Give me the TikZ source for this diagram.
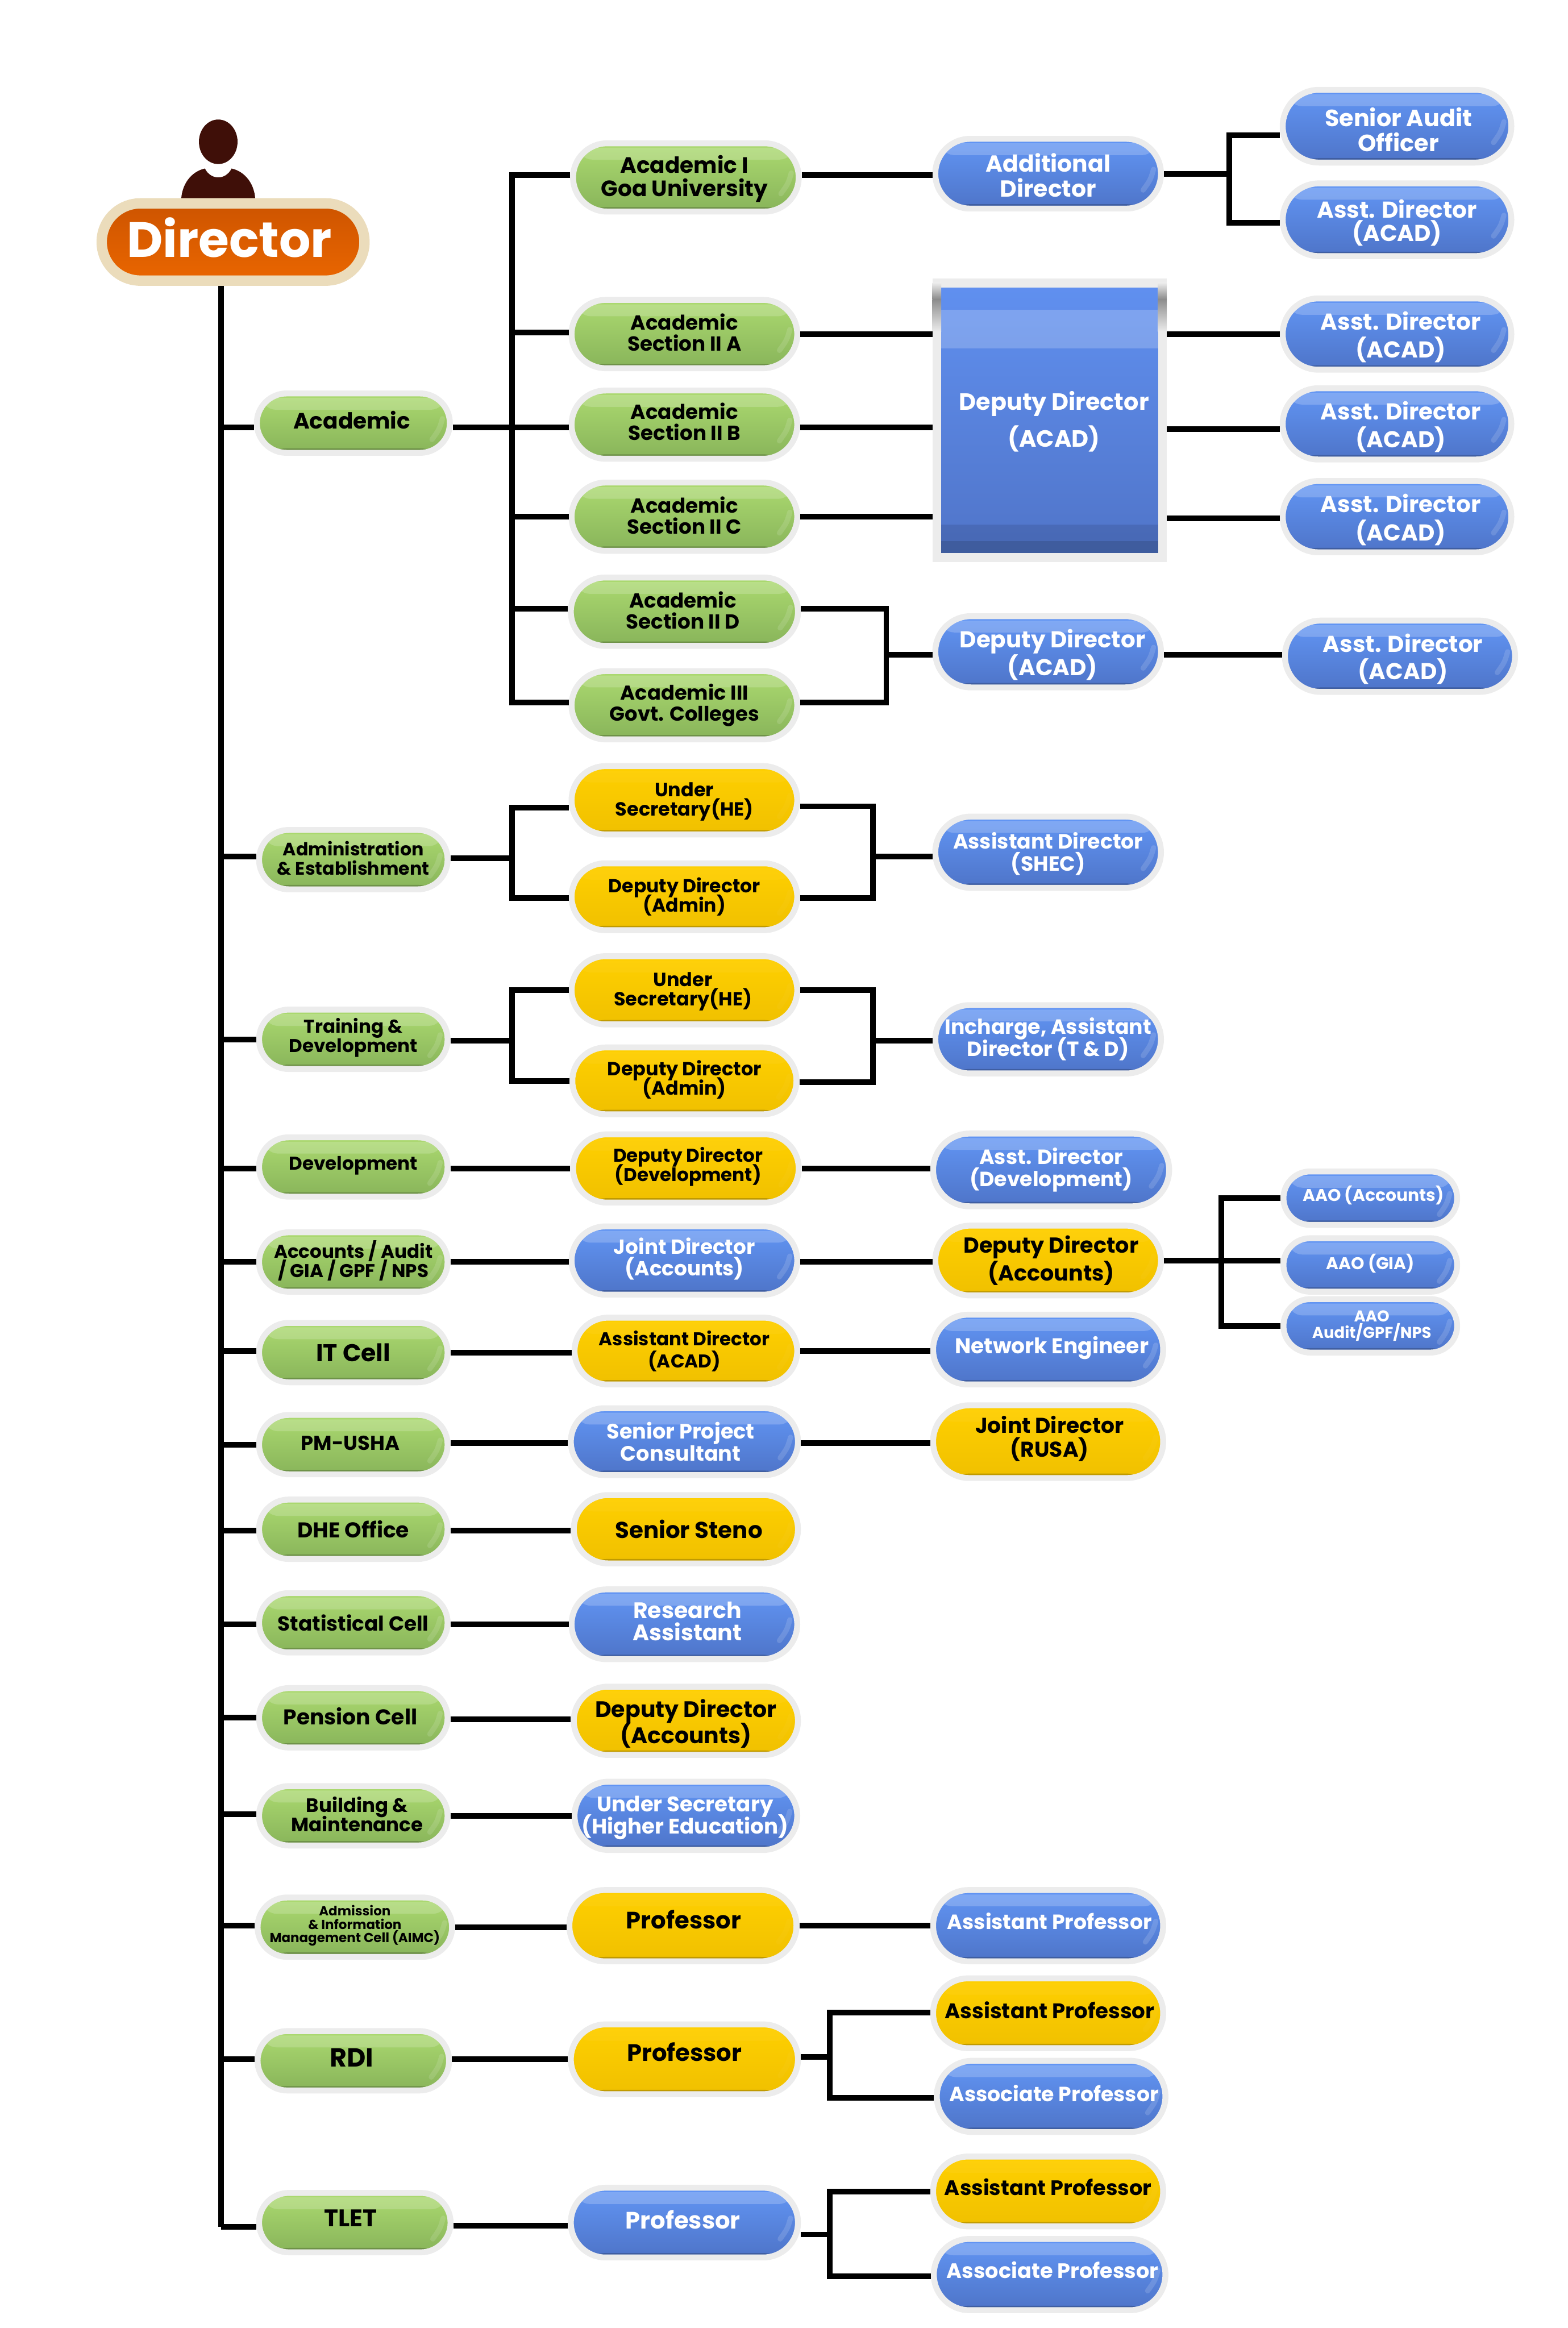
\documentclass[tikz,border=0pt]{standalone}
\usepackage{fontspec}
\setmainfont{Poppins}
\definecolor{ringgray}{HTML}{ECECEC}
\definecolor{ringcream}{HTML}{EBDCBB}
\definecolor{mhead}{HTML}{3F0F08}
\newdimen\ux
\ux=0.5669pt
\newcommand{\tx}[3]{\makebox[0pt]{\smash{\kern#1\ux\kern#1\ux\raisebox{\dimexpr#2\ux-.5\height+.5\depth\relax}{%
  \parbox[b]{300\ux}{\selectfont\lineskiplimit=-100pt\centering #3}}}}}
\tikzset{pill/.style 2 args = {rectangle, draw = ringgray, line width = 0.08cm, inner sep = 0,
                               minimum width = {(#1-1)*0.02cm}, minimum height = {(#2-1)*0.02cm},
                               rounded corners = {(#2-1)*0.01cm}}}
\tikzset{fs/.style 2 args = {font = \fontsize{#1}{#2}\selectfont\bfseries}}
\tikzset{gloss/.style = {path picture = {
  \fill [white, opacity = #1, rounded corners = 0.2cm]
    ([shift = {(3, 3)}]path picture bounding box.north west) rectangle
    ([shift = {(-3, 11)}]path picture bounding box.north east);
  \fill [black, opacity = 0.2]
    ([shift = {(0, -3)}]path picture bounding box.south west) rectangle
    (path picture bounding box.south east);
  \draw [white, opacity = 0.7*#1, line width = 0.07cm, line cap = round]
    ([shift = {(-5, -3)}]path picture bounding box.east) .. controls
    ([shift = {(-7, 4)}]path picture bounding box.east) .. ([shift = {(-12, 11)}]path picture bounding box.east);
}}}
\tikzset{greenpill/.style = {top color = {rgb,255:red,172;green,218;blue,112}, middle color = {rgb,255:red,160;green,209;blue,104},
                             bottom color = {rgb,255:red,136;green,180;blue,90}, text = black, gloss = 0.18}}
\tikzset{bluepill/.style = {top color = {rgb,255:red,98;green,150;blue,245}, middle color = {rgb,255:red,96;green,144;blue,235},
                            bottom color = {rgb,255:red,78;green,116;blue,200}, text = white, gloss = 0.2}}
\tikzset{yellowpill/.style = {top color = {rgb,255:red,255;green,208;blue,0}, middle color = {rgb,255:red,252;green,204;blue,0},
                              bottom color = {rgb,255:red,240;green,192;blue,0}, text = black, gloss = 0.04}}
\tikzset{link/.style = {line width = 0.076cm, black}}
\begin{document}
\begin{tikzpicture}[x = 0.02cm, y = -0.02cm]
      \useasboundingbox (0, 0) rectangle (1056, 1568);

      % person over the top box
      \fill [mhead] (147, 95.5) ellipse [x radius = 13, y radius = 15];
      \fill [mhead] (122, 136) .. controls (122, 124) and (129, 115.5) .. (138, 113.5)
        .. controls (142, 121.5) and (152, 121.5) .. (156, 113.5)
        .. controls (165, 115.5) and (172, 124) .. (172, 136) -- cycle;

      \node [pill = {178}{53}, line width = 0.14cm, draw = ringcream, text = white,
             top color = {rgb,255:red,205;green,84;blue,0}, bottom color = {rgb,255:red,234;green,102;blue,0},
             fs = {19}{19}] (director) at (157, 163) {\tx{-2.5}{3}{Director}};

      % first column
      \node [pill = {131}{41}, greenpill, fs = {8.5}{9}] (academic) at (238, 285) {\tx{-1}{2}{Academic}};
      \node [pill = {128}{41}, greenpill, fs = {6.9}{7.4}] (admin) at (238, 579) {\tx{0}{1}{Administration\\\& Establishment}};
      \node [pill = {128}{41}, greenpill, fs = {7.1}{7.4}] (training) at (238, 700) {\tx{0}{1}{Training \&\\Development}};
      \node [pill = {128}{41}, greenpill, fs = {7.1}{7.4}] (devel) at (238, 786) {\tx{0}{1}{Development}};
      \node [pill = {128}{41}, greenpill, fs = {7.1}{7.4}] (accounts) at (238, 850) {\tx{0}{1}{Accounts / Audit\\/ GIA / GPF / NPS}};
      \node [pill = {128}{41}, greenpill, fs = {9.3}{9.3}] (itcell) at (238, 911) {\tx{0}{0}{IT Cell}};
      \node [pill = {128}{41}, greenpill, fs = {7.7}{7.7}] (pmusha) at (238, 973) {\tx{-2}{1}{PM-USHA}};
      \node [pill = {128}{41}, greenpill, fs = {8.2}{8.2}] (dhe) at (238, 1030) {\tx{0}{0}{DHE Office}};
      \node [pill = {128}{41}, greenpill, fs = {7.8}{7.8}] (stat) at (238, 1093) {\tx{0}{0}{Statistical Cell}};
      \node [pill = {128}{41}, greenpill, fs = {8.2}{8.2}] (pension) at (238, 1157) {\tx{-2}{1}{Pension Cell}};
      \node [pill = {128}{41}, greenpill, fs = {7.4}{7.4}] (building) at (238, 1223) {\tx{2.5}{1}{Building \&\\Maintenance}};
      \node [pill = {132}{41}, greenpill, fs = {5}{5.1}] (aimc) at (239, 1298) {\tx{0}{1}{Admission\\\& Information\\Management Cell (AIMC)}};
      \node [pill = {130}{41}, greenpill, fs = {10}{10}] (rdi) at (238, 1388) {\tx{-1}{2}{RDI}};
      \node [pill = {130}{41}, greenpill, fs = {9.2}{9.2}] (tlet) at (239, 1497) {\tx{-3}{3}{TLET}};

      % second column
      \node [pill = {153}{47}, greenpill, fs = {8.5}{9}] (goa) at (462, 119.5) {\tx{-1}{-1}{Academic I\\Goa University}};
      \node [pill = {153}{47}, greenpill, fs = {7.8}{8.1}] (sectiona) at (461, 225) {\tx{0}{1}{Academic\\Section II A}};
      \node [pill = {153}{47}, greenpill, fs = {7.8}{8.1}] (sectionb) at (461, 286) {\tx{0}{2}{Academic\\Section II B}};
      \node [pill = {153}{47}, greenpill, fs = {7.8}{8.1}] (sectionc) at (461, 348) {\tx{0}{1}{Academic\\Section II C}};
      \node [pill = {154}{47}, greenpill, fs = {7.8}{8.1}] (sectiond) at (461, 412) {\tx{-1}{1}{Academic\\Section II D}};
      \node [pill = {153}{47}, greenpill, fs = {7.7}{8.1}] (govt) at (461, 475) {\tx{0}{0}{Academic III\\Govt. Colleges}};
      \node [pill = {153}{47}, yellowpill, fs = {7.3}{7.4}] (undera) at (461, 539) {\tx{0}{-1}{Under\\Secretary(HE)}};
      \node [pill = {153}{46}, yellowpill, fs = {7.2}{7.4}] (admina) at (461, 604) {\tx{0}{0}{Deputy Director\\(Admin)}};
      \node [pill = {153}{47}, yellowpill, fs = {7.3}{7.4}] (underb) at (461, 667) {\tx{-1}{-1}{Under\\Secretary(HE)}};
      \node [pill = {152}{46}, yellowpill, fs = {7.3}{7.4}] (adminb) at (461, 728) {\tx{0}{1}{Deputy Director\\(Admin)}};
      \node [pill = {153}{47}, yellowpill, fs = {7.1}{7.4}] (depdevel) at (462, 787) {\tx{1.5}{1}{Deputy Director\\(Development)}};
      \node [pill = {153}{47}, bluepill, fs = {7.8}{8.3}] (jointacc) at (461, 849) {\tx{0}{1}{Joint Director\\(Accounts)}};
      \node [pill = {151}{46}, yellowpill, fs = {7.1}{8.5}] (asstacad) at (462, 910) {\tx{-1}{0}{Assistant Director\\(ACAD)}};
      \node [pill = {154}{46}, bluepill, fs = {8}{8.5}] (project) at (461, 971) {\tx{-2.5}{0}{Senior Project\\Consultant}};
      \node [pill = {152}{47}, yellowpill, fs = {8.8}{9}] (steno) at (462, 1030) {\tx{2}{0}{Senior Steno}};
      \node [pill = {153}{48}, bluepill, fs = {8.6}{8.5}] (research) at (461, 1094) {\tx{2}{2}{Research\\Assistant}};
      \node [pill = {152}{47}, yellowpill, fs = {8.6}{10.2}] (depacca) at (462, 1159) {\tx{0}{-2}{Deputy Director\\(Accounts)}};
      \node [pill = {151}{47}, bluepill, fs = {8.1}{8.5}] (underhe) at (462, 1223) {\tx{-0.5}{-1.5}{Under Secretary\\(Higher Education)}};
      \node [pill = {154}{49}, yellowpill, fs = {9.1}{9.1}] (profa) at (460, 1297) {\tx{0.5}{4}{Professor}};
      \node [pill = {154}{48}, yellowpill, fs = {9.1}{9.1}] (profb) at (461, 1387) {\tx{0}{5}{Professor}};
      \node [pill = {154}{48}, bluepill, fs = {9.1}{9.1}] (profc) at (461, 1497) {\tx{-1}{2}{Professor}};

      % third column
      \node [pill = {153}{48}, bluepill, fs = {8.9}{9.6}] (additional) at (706, 117) {\tx{0}{-1}{Additional\\Director}};
      \node [rectangle, draw = ringgray, line width = 0.12cm, minimum width = 3.04cm, minimum height = 3.7cm,
             inner sep = 0, text = white, fs = {9}{14},
             top color = {rgb,255:red,96;green,144;blue,240}, bottom color = {rgb,255:red,80;green,116;blue,200},
             path picture = {
               \fill [white, opacity = 0.2] ([shift = {(0, 18)}]path picture bounding box.north west) rectangle
                 ([shift = {(0, 44)}]path picture bounding box.north east);
               \fill [black, opacity = 0.1] ([shift = {(0, -22)}]path picture bounding box.south west) rectangle
                 (path picture bounding box.south east);
               \fill [black, opacity = 0.12] ([shift = {(0, -11)}]path picture bounding box.south west) rectangle
                 (path picture bounding box.south east);
             }] (bigbox) at (707, 283) {\tx{3}{-1}{Deputy Director\\(ACAD)}};
      \foreach \s/\d in {north west/3, north east/-3}{
        \shade [top color = ringgray, bottom color = black!45] ([shift = {(-3+\d, 3)}]bigbox.\s) rectangle ([shift = {(3+\d, 14)}]bigbox.\s);
        \shade [top color = black!45, bottom color = ringgray] ([shift = {(-3+\d, 14)}]bigbox.\s) rectangle ([shift = {(3+\d, 36)}]bigbox.\s);
      }
      \node [pill = {153}{49}, bluepill, fs = {8.8}{10.8}] (depacad) at (706, 439) {\tx{3}{-2}{Deputy Director\\(ACAD)}};
      \node [pill = {153}{49}, bluepill, fs = {7.9}{8.5}] (shec) at (706, 574) {\tx{0}{-1}{Assistant Director\\(SHEC)}};
      \node [pill = {153}{47}, bluepill, fs = {7.9}{8.5}] (incharge) at (706, 700) {\tx{0}{0}{Incharge, Assistant\\Director (T \& D)}};
      \node [pill = {160}{50}, bluepill, fs = {7.9}{8.5}] (asstdevel) at (708, 788) {\tx{0}{0}{Asst. Director\\(Development)}};
      \node [pill = {153}{48}, yellowpill, fs = {8.3}{10.8}] (depaccb) at (706, 849) {\tx{2}{0}{Deputy Director\\(Accounts)}};
      \node [pill = {156}{48}, bluepill, fs = {8.2}{8.2}] (network) at (706, 909) {\tx{2.5}{1}{Network Engineer}};
      \node [pill = {156}{50}, yellowpill, fs = {8.2}{9}] (rusa) at (706, 971) {\tx{1}{2}{Joint Director\\(RUSA)}};
      \node [pill = {156}{49}, bluepill, fs = {7.9}{8}] (asstprofa) at (706, 1297) {\tx{1}{3}{Assistant Professor}};
      \node [pill = {156}{48}, yellowpill, fs = {8.1}{8}] (asstprofb) at (706, 1356) {\tx{1}{2}{Assistant Professor}};
      \node [pill = {155}{49}, bluepill, fs = {7.9}{8}] (assocprofa) at (708, 1412) {\tx{2}{2}{Associate Professor}};
      \node [pill = {156}{48}, yellowpill, fs = {8}{8}] (asstprofc) at (706, 1476) {\tx{0}{3}{Assistant Professor}};
      \node [pill = {157}{49}, bluepill, fs = {8}{8}] (assocprofb) at (707, 1532) {\tx{2}{3}{Associate Professor}};

      % fourth column
      \node [pill = {155}{50}, bluepill, fs = {9}{9.6}] (audit) at (941, 85) {\tx{1}{-2.5}{Senior Audit\\Officer}};
      \node [pill = {155}{50}, bluepill, fs = {8.8}{9}] (asstb) at (941, 148) {\tx{0}{-2}{Asst. Director\\(ACAD)}};
      \node [pill = {155}{49}, bluepill, fs = {8.8}{10.8}] (asstc) at (941, 225) {\tx{2.5}{-2}{Asst. Director\\(ACAD)}};
      \node [pill = {155}{49}, bluepill, fs = {8.8}{10.5}] (asstd) at (941, 285.5) {\tx{2.5}{-2}{Asst. Director\\(ACAD)}};
      \node [pill = {155}{49}, bluepill, fs = {8.8}{10.8}] (asste) at (941, 348) {\tx{2.5}{-2}{Asst. Director\\(ACAD)}};
      \node [pill = {156}{49}, bluepill, fs = {8.8}{10.5}] (asstf) at (943, 442) {\tx{2}{-2}{Asst. Director\\(ACAD)}};
      \node [pill = {118}{37}, bluepill, fs = {6.5}{6.5}] (aaoacc) at (923, 807) {\tx{2}{2}{AAO (Accounts)}};
      \node [pill = {118}{37}, bluepill, fs = {6.5}{6.5}] (aaogia) at (923, 852) {\tx{0}{1}{AAO (GIA)}};
      \node [pill = {118}{37}, bluepill, fs = {6}{6.2}] (aaoaudit) at (923, 893) {\tx{1}{0}{AAO\\Audit/GPF/NPS}};

      % main trunk
      \coordinate (trunk) at (149, 1500);
      \draw [link] (director.south -| trunk) -- (trunk);
      \foreach \n/\y in {academic/288, admin/577, training/700, devel/787, accounts/850, itcell/910, pmusha/973,
                         dhe/1031, stat/1094, pension/1157, building/1222, aimc/1297, rdi/1387, tlet/1500}{
        \draw [link] (trunk |- 0, \y) -- (\n.west |- 0, \y);
      }

      % straight runs
      \foreach \a/\b/\y in {academic/sectionb/288, goa/additional/118, sectiona/bigbox/225, sectionb/bigbox/288,
                            sectionc/bigbox/348, bigbox/asstc/225, bigbox/asstd/289, bigbox/asste/349,
                            depacad/asstf/441, devel/depdevel/787, depdevel/asstdevel/787, accounts/jointacc/850,
                            jointacc/depaccb/850, itcell/asstacad/911, asstacad/network/910, pmusha/project/972,
                            project/rusa/972, dhe/steno/1031, stat/research/1094, pension/depacca/1158,
                            building/underhe/1223, aimc/profa/1298, profa/asstprofa/1297, rdi/profb/1387,
                            tlet/profc/1499}{
        \draw [link] (\a.east |- 0, \y) -- (\b.west |- 0, \y);
      }

      % brackets
      \coordinate (busa) at (345, 0);
      \draw [link] (goa.west |- 0, 118) -- (busa |- 0, 118) -- (busa |- 0, 473) -- (govt.west |- 0, 473);
      \foreach \n/\y in {sectiona/224, sectionc/348, sectiond/410}{
        \draw [link] (busa |- 0, \y) -- (\n.west |- 0, \y);
      }

      \coordinate (busb) at (597, 0);
      \draw [link] (sectiond.east |- 0, 410) -- (busb |- 0, 410) -- (busb |- 0, 473) -- (govt.east |- 0, 473);
      \draw [link] (busb |- 0, 441) -- (depacad.west |- 0, 441);

      \coordinate (busc) at (828, 0);
      \draw [link] (additional.east |- 0, 117) -- (busc |- 0, 117);
      \draw [link] (audit.west |- 0, 91) -- (busc |- 0, 91) -- (busc |- 0, 150) -- (asstb.west |- 0, 150);

      \coordinate (busd) at (345, 0);
      \coordinate (buse) at (588, 0);
      \draw [link] (admin.east |- 0, 578) -- (busd |- 0, 578);
      \draw [link] (undera.west |- 0, 544) -- (busd |- 0, 544) -- (busd |- 0, 605) -- (admina.west |- 0, 605);
      \draw [link] (undera.east |- 0, 543) -- (buse |- 0, 543) -- (buse |- 0, 605) -- (admina.east |- 0, 605);
      \draw [link] (buse |- 0, 577) -- (shec.west |- 0, 577);

      \draw [link] (training.east |- 0, 701) -- (busd |- 0, 701);
      \draw [link] (underb.west |- 0, 667) -- (busd |- 0, 667) -- (busd |- 0, 728) -- (adminb.west |- 0, 728);
      \draw [link] (underb.east |- 0, 667) -- (buse |- 0, 667) -- (buse |- 0, 729) -- (adminb.east |- 0, 729);
      \draw [link] (buse |- 0, 701) -- (incharge.west |- 0, 701);

      \coordinate (busf) at (822.5, 0);
      \draw [link] (depaccb.east |- 0, 849) -- (aaogia.west |- 0, 849);
      \draw [link] (aaoacc.west |- 0, 807) -- (busf |- 0, 807) -- (busf |- 0, 893) -- (aaoaudit.west |- 0, 893);

      \coordinate (busg) at (559, 0);
      \draw [link] (profb.east |- 0, 1385.5) -- (busg |- 0, 1385.5);
      \draw [link] (asstprofb.west |- 0, 1355.5) -- (busg |- 0, 1355.5) -- (busg |- 0, 1413) -- (assocprofa.west |- 0, 1413);
      \draw [link] (profc.east |- 0, 1505) -- (busg |- 0, 1505);
      \draw [link] (asstprofc.west |- 0, 1476) -- (busg |- 0, 1476) -- (busg |- 0, 1533) -- (assocprofb.west |- 0, 1533);
    \end{tikzpicture}
\end{document}
